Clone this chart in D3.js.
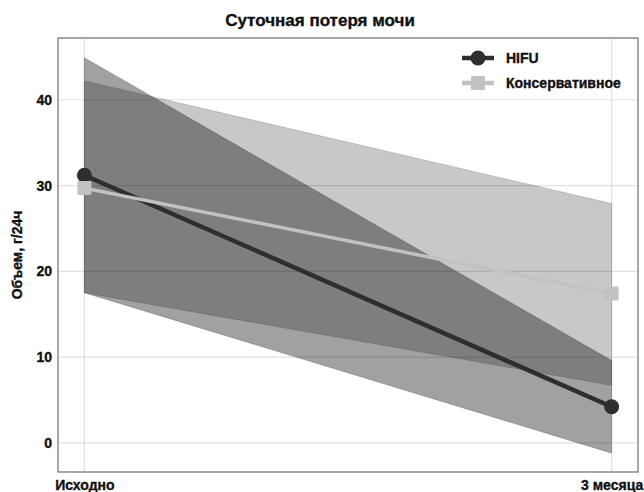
<!DOCTYPE html>
<html><head><meta charset="utf-8">
<script src="https://cdn.jsdelivr.net/npm/d3@7"></script>
<style>
body{margin:0;background:#fff;}
text{font-family:"Liberation Sans",Arial,sans-serif;font-weight:bold;stroke:#111;stroke-width:0.35px;}
</style></head>
<body><svg id="c" width="644" height="492"></svg>
<script>
const categories = ["Исходно", "3 месяца"];
const seriesNames = ["HIFU", "Консервативное"];
const hifuMean = [31.2, 4.2];
const hifuLow = [17.5, -1.2];
const hifuHigh = [44.9, 9.6];
const consMean = [29.7, 17.4];
const consLow = [17.5, 6.7];
const consHigh = [42.2, 27.9];
const yTicks = [0, 10, 20, 30, 40];

const svg = d3.select("#c");
const L = 58, R = 638, T = 38, B = 472;
const x = d3.scaleLinear().domain([-0.05, 1.05]).range([L, R]);
const y = d3.scaleLinear().domain([-3.4, 47.2]).range([B, T]);

// grid
svg.append("g").selectAll("line").data(yTicks).join("line")
  .attr("x1", L).attr("x2", R).attr("y1", d => y(d)).attr("y2", d => y(d))
  .attr("stroke", "#e0e0e0").attr("stroke-width", 1.2);
svg.append("g").selectAll("line").data(categories).join("line")
  .attr("x1", (d,i) => x(i)).attr("x2", (d,i) => x(i)).attr("y1", T).attr("y2", B)
  .attr("stroke", "#e0e0e0").attr("stroke-width", 1.2);

// bands
const area = (lo, hi) => d3.area().x((d,i) => x(i)).y0((d,i) => y(lo[i])).y1((d,i) => y(hi[i]))(categories);
svg.append("path").attr("d", area(hifuLow, hifuHigh))
  .attr("fill", "#000").attr("fill-opacity", 0.37)
  .attr("stroke", "#000").attr("stroke-opacity", 0.2).attr("stroke-width", 1);
svg.append("path").attr("d", area(consLow, consHigh))
  .attr("fill", "#000").attr("fill-opacity", 0.215)
  .attr("stroke", "#000").attr("stroke-opacity", 0.15).attr("stroke-width", 1);

// lines
const line = vals => d3.line().x((d,i) => x(i)).y(d => y(d))(vals);
svg.append("path").attr("d", line(hifuMean)).attr("fill", "none")
  .attr("stroke", "#2e2e2e").attr("stroke-width", 4.5);
svg.append("g").selectAll("circle").data(hifuMean).join("circle")
  .attr("cx", (d,i) => x(i)).attr("cy", d => y(d)).attr("r", 7.5).attr("fill", "#2e2e2e");
svg.append("path").attr("d", line(consMean)).attr("fill", "none")
  .attr("stroke", "#c2c2c2").attr("stroke-width", 3.5);
svg.append("g").selectAll("rect").data(consMean).join("rect")
  .attr("x", (d,i) => x(i) - 7).attr("y", d => y(d) - 7).attr("width", 14).attr("height", 14)
  .attr("rx", 1.5).attr("fill", "#c2c2c2");

// frame
svg.append("rect").attr("x", L).attr("y", T).attr("width", R - L).attr("height", B - T)
  .attr("fill", "none").attr("stroke", "#8a8a8a").attr("stroke-width", 1.5);

// axes
const yAxis = d3.axisLeft(y).tickValues(yTicks).tickSize(0).tickPadding(6);
const gy = svg.append("g").attr("transform", `translate(${L},0)`).call(yAxis);
gy.select(".domain").remove();
gy.selectAll("text").attr("font-size", 14).attr("fill", "#111")
  .style("font-family", '"Liberation Sans",Arial,sans-serif').style("font-weight", "bold");

const xAxis = d3.axisBottom(d3.scalePoint().domain(categories).range([x(0), x(1)])).tickSize(0).tickPadding(8);
const gx = svg.append("g").attr("transform", `translate(0,${B})`).call(xAxis);
gx.select(".domain").remove();
gx.selectAll("text").attr("font-size", 14).attr("fill", "#111")
  .style("font-family", '"Liberation Sans",Arial,sans-serif').style("font-weight", "bold");

// y label
svg.append("text").attr("transform", `translate(22,${(T + B) / 2}) rotate(-90)`)
  .attr("text-anchor", "middle").attr("font-size", 14).attr("fill", "#111").text("Объем, г/24ч");

// title
svg.append("text").attr("x", 320).attr("y", 26).attr("text-anchor", "middle")
  .attr("font-size", 17).attr("fill", "#111").text("Суточная потеря мочи");

// legend
const leg = svg.append("g");
const legItems = [{name: seriesNames[0], color: "#2e2e2e", shape: "circle"}, {name: seriesNames[1], color: "#c2c2c2", shape: "square"}];
legItems.forEach((it, k) => {
  const ly = 58 + k * 25;
  leg.append("line").attr("x1", 462).attr("x2", 494).attr("y1", ly).attr("y2", ly)
    .attr("stroke", it.color).attr("stroke-width", 4.5);
  if (it.shape === "circle") leg.append("circle").attr("cx", 478).attr("cy", ly).attr("r", 7.5).attr("fill", it.color);
  else leg.append("rect").attr("x", 471).attr("y", ly - 7).attr("width", 14).attr("height", 14).attr("rx", 1.5).attr("fill", it.color);
  leg.append("text").attr("x", 506).attr("y", ly + 5).attr("font-size", 14).attr("fill", "#111").text(it.name);
});
</script></body></html>
